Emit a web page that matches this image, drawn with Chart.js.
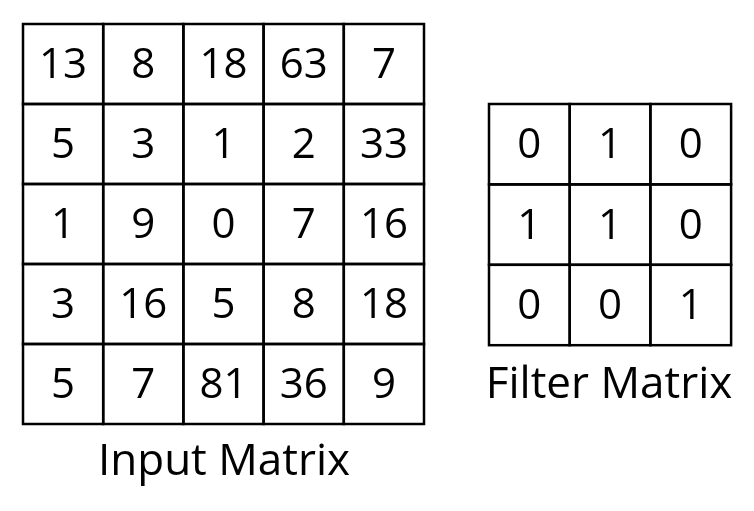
<!DOCTYPE html>
<html><head><meta charset="utf-8">
<script src="https://cdn.jsdelivr.net/npm/chart.js@4/dist/chart.umd.min.js"></script>
<style>html,body{margin:0;padding:0;background:#fff}#wrap{width:754px;height:511px}</style>
</head><body><div id="wrap"><canvas id="c"></canvas></div>
<script>
const inputMatrix = [
  [13, 8, 18, 63, 7],
  [5, 3, 1, 2, 33],
  [1, 9, 0, 7, 16],
  [3, 16, 5, 8, 18],
  [5, 7, 81, 36, 9]
];
const filterMatrix = [
  [0, 1, 0],
  [1, 1, 0],
  [0, 0, 1]
];
const titles = ["Input Matrix", "Filter Matrix"];

const layout = [
  {m: inputMatrix, x0: 23, y0: 24, cw: 80.2, ch: 80, title: titles[0], tx: 224, ty: 462},
  {m: filterMatrix, x0: 489, y0: 104, cw: 80.7, ch: 80.4, title: titles[1], tx: 609, ty: 385}
];
const FONT = "'Open Sans', Lato, sans-serif";
const matrixPlugin = {
  id: 'matrix',
  afterDatasetsDraw(chart) {
    const ctx = chart.ctx, xs = chart.scales.x, ys = chart.scales.y;
    ctx.save();
    ctx.strokeStyle = '#000'; ctx.lineWidth = 2.5;
    ctx.textAlign = 'center'; ctx.textBaseline = 'middle'; ctx.fillStyle = '#000';
    layout.forEach(L => {
      L.m.forEach((row, r) => row.forEach((v, c) => {
        const x1 = xs.getPixelForValue(L.x0 + c * L.cw), x2 = xs.getPixelForValue(L.x0 + (c + 1) * L.cw);
        const y1 = ys.getPixelForValue(L.y0 + r * L.ch), y2 = ys.getPixelForValue(L.y0 + (r + 1) * L.ch);
        ctx.strokeRect(x1, y1, x2 - x1, y2 - y1);
        ctx.font = "42px " + FONT;
        ctx.fillText(String(v), (x1 + x2) / 2, (y1 + y2) / 2 + 2);
      }));
      ctx.font = "44px " + FONT;
      ctx.fillText(L.title, xs.getPixelForValue(L.tx), ys.getPixelForValue(L.ty));
    });
    ctx.restore();
  }
};
new Chart(document.getElementById('c'), {
  type: 'scatter',
  data: {datasets: [{data: []}]},
  options: {
    responsive: true, maintainAspectRatio: false, animation: false,
    layout: {padding: 0},
    plugins: {legend: {display: false}, tooltip: {enabled: false}},
    scales: {
      x: {type: 'linear', min: 0, max: 754, display: false},
      y: {type: 'linear', min: 0, max: 511, reverse: true, display: false}
    }
  },
  plugins: [matrixPlugin]
});
</script></body></html>
